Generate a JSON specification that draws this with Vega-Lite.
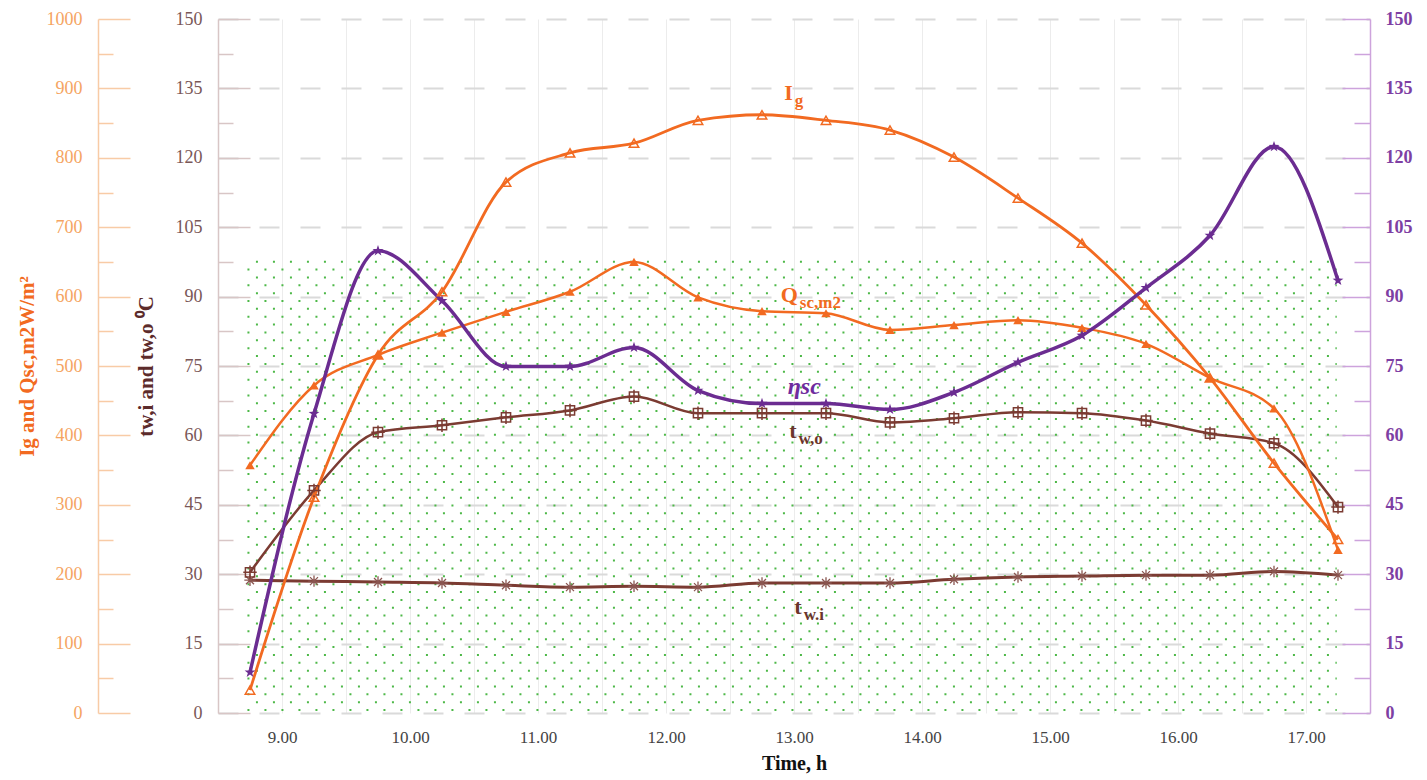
{
  "$schema": "https://vega.github.io/schema/vega-lite/v6.json",
  "width": 1152,
  "height": 694,
  "autosize": {"type": "none"},
  "padding": {"left": 218, "top": 19, "right": 57, "bottom": 67},
  "background": "white",
  "config": {
    "view": {"stroke": null},
    "axis": {"labelFont": "Liberation Serif", "titleFont": "Liberation Serif"},
    "axisLeft": {"labelFont": "Liberation Serif", "titleFont": "Liberation Serif"},
    "axisRight": {"labelFont": "Liberation Serif", "titleFont": "Liberation Serif"},
    "axisBottom": {"labelFont": "Liberation Serif", "titleFont": "Liberation Serif"},
    "axisX": {"labelFont": "Liberation Serif", "titleFont": "Liberation Serif"},
    "axisY": {"labelFont": "Liberation Serif", "titleFont": "Liberation Serif"},
    "axisQuantitative": {"labelFont": "Liberation Serif", "titleFont": "Liberation Serif"},
    "text": {"font": "Liberation Serif"}
  },
  "datasets": {
    "main": [
      {"t": 8.75, "Ig": 33, "Qsc": 357, "eta": 8.8, "two": 30.4, "twi": 28.7},
      {"t": 9.25, "Ig": 311, "Qsc": 472, "eta": 64.7, "two": 48.1, "twi": 28.5},
      {"t": 9.75, "Ig": 516, "Qsc": 516, "eta": 99.9, "two": 60.7, "twi": 28.3},
      {"t": 10.25, "Ig": 607, "Qsc": 548, "eta": 89.1, "two": 62.2, "twi": 28.1},
      {"t": 10.75, "Ig": 765, "Qsc": 578, "eta": 74.9, "two": 63.9, "twi": 27.6},
      {"t": 11.25, "Ig": 807, "Qsc": 607, "eta": 74.9, "two": 65.4, "twi": 27.2},
      {"t": 11.75, "Ig": 821, "Qsc": 650, "eta": 79.0, "two": 68.4, "twi": 27.4},
      {"t": 12.25, "Ig": 854, "Qsc": 599, "eta": 69.7, "two": 64.8, "twi": 27.2},
      {"t": 12.75, "Ig": 862, "Qsc": 579, "eta": 66.9, "two": 64.8, "twi": 28.1},
      {"t": 13.25, "Ig": 854, "Qsc": 576, "eta": 66.9, "two": 64.8, "twi": 28.1},
      {"t": 13.75, "Ig": 840, "Qsc": 552, "eta": 65.6, "two": 62.8, "twi": 28.1},
      {"t": 14.25, "Ig": 801, "Qsc": 559, "eta": 69.3, "two": 63.7, "twi": 28.9},
      {"t": 14.75, "Ig": 742, "Qsc": 566, "eta": 75.8, "two": 65.0, "twi": 29.4},
      {"t": 15.25, "Ig": 677, "Qsc": 555, "eta": 81.6, "two": 64.8, "twi": 29.6},
      {"t": 15.75, "Ig": 588, "Qsc": 532, "eta": 91.9, "two": 63.2, "twi": 29.8},
      {"t": 16.25, "Ig": 483, "Qsc": 483, "eta": 103.2, "two": 60.4, "twi": 29.8},
      {"t": 16.75, "Ig": 360, "Qsc": 439, "eta": 122.4, "two": 58.3, "twi": 30.6},
      {"t": 17.25, "Ig": 250, "Qsc": 235, "eta": 93.5, "two": 44.5, "twi": 29.8}
    ],
    "labels": [
      {"s": "Ig", "main": "I", "sub": "g", "t": 12.99, "v": 134.0},
      {"s": "Qsc", "main": "Q", "sub": "sc,m2", "t": 13.03, "v": 90.4},
      {"s": "two", "main": "t", "sub": "w,o", "t": 13.02, "v": 60.9},
      {"s": "twi", "main": "t", "sub": "w.i", "t": 13.06, "v": 22.9}
    ],
    "etalabel": [
      {"s": "eta", "main": "ηsc", "t": 13.08, "v": 70.4}
    ],
    "dots": [
      {"lv": 0.65, "p": 0, "t": 8.73, "t2": 17.24},
      {"lv": 2.35, "p": 1, "t": 8.73, "t2": 17.24},
      {"lv": 4.05, "p": 0, "t": 8.73, "t2": 17.24},
      {"lv": 5.75, "p": 1, "t": 8.73, "t2": 17.24},
      {"lv": 7.45, "p": 0, "t": 8.73, "t2": 17.24},
      {"lv": 9.15, "p": 1, "t": 8.73, "t2": 17.24},
      {"lv": 10.85, "p": 0, "t": 8.73, "t2": 17.24},
      {"lv": 12.55, "p": 1, "t": 8.73, "t2": 17.24},
      {"lv": 14.25, "p": 0, "t": 8.73, "t2": 17.24},
      {"lv": 15.95, "p": 1, "t": 8.73, "t2": 17.24},
      {"lv": 17.65, "p": 0, "t": 8.73, "t2": 17.24},
      {"lv": 19.35, "p": 1, "t": 8.73, "t2": 17.24},
      {"lv": 21.05, "p": 0, "t": 8.73, "t2": 17.24},
      {"lv": 22.75, "p": 1, "t": 8.73, "t2": 17.24},
      {"lv": 24.45, "p": 0, "t": 8.73, "t2": 17.24},
      {"lv": 26.15, "p": 1, "t": 8.73, "t2": 17.24},
      {"lv": 27.85, "p": 0, "t": 8.73, "t2": 17.24},
      {"lv": 29.55, "p": 1, "t": 8.73, "t2": 17.24},
      {"lv": 31.25, "p": 0, "t": 8.73, "t2": 17.24},
      {"lv": 32.95, "p": 1, "t": 8.73, "t2": 17.24},
      {"lv": 34.65, "p": 0, "t": 8.73, "t2": 17.24},
      {"lv": 36.35, "p": 1, "t": 8.73, "t2": 17.24},
      {"lv": 38.05, "p": 0, "t": 8.73, "t2": 17.24},
      {"lv": 39.75, "p": 1, "t": 8.73, "t2": 17.24},
      {"lv": 41.45, "p": 0, "t": 8.73, "t2": 17.24},
      {"lv": 43.15, "p": 1, "t": 8.73, "t2": 17.24},
      {"lv": 44.85, "p": 0, "t": 8.73, "t2": 17.24},
      {"lv": 46.55, "p": 1, "t": 8.73, "t2": 17.24},
      {"lv": 48.25, "p": 0, "t": 8.73, "t2": 17.24},
      {"lv": 49.95, "p": 1, "t": 8.73, "t2": 17.24},
      {"lv": 51.65, "p": 0, "t": 8.73, "t2": 17.24},
      {"lv": 53.35, "p": 1, "t": 8.73, "t2": 17.24},
      {"lv": 55.05, "p": 0, "t": 8.73, "t2": 17.24},
      {"lv": 56.75, "p": 1, "t": 8.73, "t2": 17.24},
      {"lv": 58.45, "p": 0, "t": 8.73, "t2": 17.24},
      {"lv": 60.15, "p": 1, "t": 8.73, "t2": 17.24},
      {"lv": 61.85, "p": 0, "t": 8.73, "t2": 17.24},
      {"lv": 63.55, "p": 1, "t": 8.73, "t2": 17.24},
      {"lv": 65.25, "p": 0, "t": 8.73, "t2": 17.24},
      {"lv": 66.95, "p": 1, "t": 8.73, "t2": 17.24},
      {"lv": 68.65, "p": 0, "t": 8.73, "t2": 17.24},
      {"lv": 70.35, "p": 1, "t": 8.73, "t2": 17.24},
      {"lv": 72.05, "p": 0, "t": 8.73, "t2": 17.24},
      {"lv": 73.75, "p": 1, "t": 8.73, "t2": 17.24},
      {"lv": 75.45, "p": 0, "t": 8.73, "t2": 17.24},
      {"lv": 77.15, "p": 1, "t": 8.73, "t2": 17.24},
      {"lv": 78.85, "p": 0, "t": 8.73, "t2": 17.24},
      {"lv": 80.55, "p": 1, "t": 8.73, "t2": 17.24},
      {"lv": 82.25, "p": 0, "t": 8.73, "t2": 17.24},
      {"lv": 83.95, "p": 1, "t": 8.73, "t2": 17.24},
      {"lv": 85.65, "p": 0, "t": 8.73, "t2": 17.24},
      {"lv": 87.35, "p": 1, "t": 8.73, "t2": 17.24},
      {"lv": 89.05, "p": 0, "t": 8.73, "t2": 17.24},
      {"lv": 90.75, "p": 1, "t": 8.73, "t2": 17.24},
      {"lv": 92.45, "p": 0, "t": 8.73, "t2": 17.24},
      {"lv": 94.15, "p": 1, "t": 8.73, "t2": 17.24},
      {"lv": 95.85, "p": 0, "t": 8.73, "t2": 17.24},
      {"lv": 97.55, "p": 1, "t": 8.73, "t2": 17.24}
    ]
  },
  "data": {"name": "main"},
  "encoding": {
    "x": {
      "field": "t", "type": "quantitative",
      "scale": {"domain": [8.5, 17.5], "nice": false, "zero": false},
      "axis": {
        "values": [9, 9.5, 10, 10.5, 11, 11.5, 12, 12.5, 13, 13.5, 14, 14.5, 15, 15.5, 16, 16.5, 17],
        "labelExpr": "datum.value % 1 === 0 ? format(datum.value, '.2f') : ''",
        "labelOverlap": false,
        "domain": false, "ticks": false, "tickSize": 0,
        "grid": true, "gridColor": "#ececec", "gridWidth": 1,
        "labelFont": "Liberation Serif", "labelFontSize": 17, "labelColor": "#444444", "labelPadding": 16,
        "title": "Time, h", "titleFont": "Liberation Serif", "titleFontSize": 20, "titleFontWeight": "bold", "titleColor": "#111111", "titlePadding": 8
      }
    }
  },
  "layer": [
    {
      "mark": {"type": "point", "opacity": 0},
      "encoding": {"y": {"field": "two", "type": "quantitative", "scale": {"domain": [0, 150], "nice": false, "zero": true},
        "axis": {"orient": "left", "offset": 0, "values": [0, 15, 30, 45, 60, 75, 90, 105, 120, 135, 150], "format": "d",
          "ticks": false, "tickSize": 0, "domain": true, "domainColor": "#D8C6C6", "domainWidth": 1.5,
          "labelFont": "Liberation Serif", "labelColor": "#7A5757", "labelFontSize": 18, "labelPadding": 16,
          "grid": true, "gridDash": [20, 21], "gridColor": "#dadada", "gridWidth": 2,
          "title": "tw,i and tw,o ⁰C", "titleFont": "Liberation Serif", "titleColor": "#5C2B2B", "titleFontSize": 21, "titleFontWeight": "bold",
          "titleX": -72, "titleY": 347, "titleAngle": -90, "titleAlign": "center", "titleBaseline": "middle"}}}
    },
    {
      "mark": {"type": "point", "opacity": 0},
      "encoding": {"y": {"field": "two", "type": "quantitative", "scale": {"domain": [0, 150], "nice": false},
        "axis": {"orient": "left", "offset": -32, "values": [0, 15, 30, 45, 60, 75, 90, 105, 120, 135, 150],
          "domain": false, "labels": false, "ticks": true, "tickSize": 32, "tickColor": "#D8C6C6", "tickWidth": 1.5, "grid": false, "title": null}}}
    },
    {
      "mark": {"type": "point", "opacity": 0},
      "encoding": {"y": {"field": "two", "type": "quantitative", "scale": {"domain": [0, 150], "nice": false},
        "axis": {"orient": "left", "offset": -15, "values": [7.5, 22.5, 37.5, 52.5, 67.5, 82.5, 97.5, 112.5, 127.5, 142.5],
          "domain": false, "labels": false, "ticks": true, "tickSize": 15, "tickColor": "#D8C6C6", "tickWidth": 1.5, "grid": false, "title": null}}}
    },
    {
      "mark": {"type": "point", "opacity": 0},
      "encoding": {"y": {"field": "Ig", "type": "quantitative", "scale": {"domain": [0, 1000], "nice": false},
        "axis": {"orient": "left", "offset": 120, "values": [0, 100, 200, 300, 400, 500, 600, 700, 800, 900, 1000], "format": "d",
          "ticks": false, "tickSize": 0, "domain": true, "domainColor": "#F8CBA6", "domainWidth": 1.5,
          "labelFont": "Liberation Serif", "labelColor": "#F5A462", "labelFontSize": 18, "labelPadding": 16, "grid": false,
          "title": "Ig and Qsc,m2W/m²", "titleFont": "Liberation Serif", "titleColor": "#F26A21", "titleFontSize": 21, "titleFontWeight": "bold",
          "titleX": -71, "titleY": 347, "titleAngle": -90, "titleAlign": "center", "titleBaseline": "middle"}}}
    },
    {
      "mark": {"type": "point", "opacity": 0},
      "encoding": {"y": {"field": "Ig", "type": "quantitative", "scale": {"domain": [0, 1000], "nice": false},
        "axis": {"orient": "left", "offset": 88, "values": [0, 100, 200, 300, 400, 500, 600, 700, 800, 900, 1000],
          "domain": false, "labels": false, "ticks": true, "tickSize": 32, "tickColor": "#F8CBA6", "tickWidth": 1.5, "grid": false, "title": null}}}
    },
    {
      "mark": {"type": "point", "opacity": 0},
      "encoding": {"y": {"field": "Ig", "type": "quantitative", "scale": {"domain": [0, 1000], "nice": false},
        "axis": {"orient": "left", "offset": 105, "values": [50, 150, 250, 350, 450, 550, 650, 750, 850, 950],
          "domain": false, "labels": false, "ticks": true, "tickSize": 15, "tickColor": "#F8CBA6", "tickWidth": 1.5, "grid": false, "title": null}}}
    },
    {
      "mark": {"type": "point", "opacity": 0},
      "encoding": {"y": {"field": "eta", "type": "quantitative", "scale": {"domain": [0, 150], "nice": false},
        "axis": {"orient": "right", "offset": 0, "values": [0, 15, 30, 45, 60, 75, 90, 105, 120, 135, 150], "format": "d",
          "ticks": false, "tickSize": 0, "domain": true, "domainColor": "#CDA3DC", "domainWidth": 1.5,
          "labelFont": "Liberation Serif", "labelColor": "#7E3FA3", "labelFontSize": 18, "labelFontWeight": "bold", "labelPadding": 15, "grid": false, "title": null}}}
    },
    {
      "mark": {"type": "point", "opacity": 0},
      "encoding": {"y": {"field": "eta", "type": "quantitative", "scale": {"domain": [0, 150], "nice": false},
        "axis": {"orient": "right", "offset": -28, "values": [0, 15, 30, 45, 60, 75, 90, 105, 120, 135, 150],
          "domain": false, "labels": false, "ticks": true, "tickSize": 28, "tickColor": "#CDA3DC", "tickWidth": 1.5, "grid": false, "title": null}}}
    },
    {
      "mark": {"type": "point", "opacity": 0},
      "encoding": {"y": {"field": "eta", "type": "quantitative", "scale": {"domain": [0, 150], "nice": false},
        "axis": {"orient": "right", "offset": -16, "values": [7.5, 22.5, 37.5, 52.5, 67.5, 82.5, 97.5, 112.5, 127.5, 142.5],
          "domain": false, "labels": false, "ticks": true, "tickSize": 16, "tickColor": "#CDA3DC", "tickWidth": 1.5, "grid": false, "title": null}}}
    },
    {
      "data": {"name": "dots"},
      "transform": [{"filter": "datum.p == 0"}],
      "mark": {"type": "rule", "stroke": "#4DB848", "strokeWidth": 2, "strokeDash": [2, 15], "strokeDashOffset": 0},
      "encoding": {
        "x2": {"field": "t2"},
        "y": {"field": "lv", "type": "quantitative", "scale": {"domain": [0, 150], "nice": false}, "axis": null}
      }
    },
    {
      "data": {"name": "dots"},
      "transform": [{"filter": "datum.p == 1"}],
      "mark": {"type": "rule", "stroke": "#4DB848", "strokeWidth": 2, "strokeDash": [2, 15], "strokeDashOffset": 8.5},
      "encoding": {
        "x2": {"field": "t2"},
        "y": {"field": "lv", "type": "quantitative", "scale": {"domain": [0, 150], "nice": false}, "axis": null}
      }
    },
    {
      "mark": {"type": "line", "color": "#7B3B32", "strokeWidth": 3, "interpolate": "monotone"},
      "encoding": {"y": {"field": "twi", "type": "quantitative", "scale": {"domain": [0, 150], "nice": false}, "axis": null}}
    },
    {
      "mark": {"type": "line", "color": "#7B3B32", "strokeWidth": 2.5, "interpolate": "monotone"},
      "encoding": {"y": {"field": "two", "type": "quantitative", "scale": {"domain": [0, 150], "nice": false}, "axis": null}}
    },
    {
      "mark": {"type": "line", "color": "#F26A21", "strokeWidth": 2.5, "interpolate": "monotone"},
      "encoding": {"y": {"field": "Qsc", "type": "quantitative", "scale": {"domain": [0, 1000], "nice": false}, "axis": null}}
    },
    {
      "mark": {"type": "line", "color": "#F26A21", "strokeWidth": 2.8, "interpolate": "monotone"},
      "encoding": {"y": {"field": "Ig", "type": "quantitative", "scale": {"domain": [0, 1000], "nice": false}, "axis": null}}
    },
    {
      "mark": {"type": "line", "color": "#6B2C91", "strokeWidth": 3.5, "interpolate": "monotone"},
      "encoding": {"y": {"field": "eta", "type": "quantitative", "scale": {"domain": [0, 150], "nice": false}, "axis": null}}
    },
    {
      "mark": {"type": "point", "shape": "M-1,0L1,0M0,-1L0,1M-0.7,-0.7L0.7,0.7M-0.7,0.7L0.7,-0.7", "filled": false, "stroke": "#8A5550", "strokeWidth": 1.3, "size": 130, "opacity": 1},
      "encoding": {"y": {"field": "twi", "type": "quantitative", "scale": {"domain": [0, 150], "nice": false}, "axis": null}}
    },
    {
      "mark": {"type": "point", "shape": "M-0.75,-0.75L0.75,-0.75L0.75,0.75L-0.75,0.75Z M-1.1,0L1.1,0 M0,-1.1L0,1.1", "filled": false, "stroke": "#7B3B32", "strokeWidth": 1.5, "size": 150, "opacity": 1},
      "encoding": {"y": {"field": "two", "type": "quantitative", "scale": {"domain": [0, 150], "nice": false}, "axis": null}}
    },
    {
      "mark": {"type": "point", "shape": "triangle-up", "filled": true, "color": "#F26A21", "size": 90, "opacity": 1},
      "encoding": {"y": {"field": "Qsc", "type": "quantitative", "scale": {"domain": [0, 1000], "nice": false}, "axis": null}}
    },
    {
      "mark": {"type": "point", "shape": "triangle-up", "filled": false, "stroke": "#F26A21", "strokeWidth": 1.5, "size": 90, "opacity": 1},
      "encoding": {"y": {"field": "Ig", "type": "quantitative", "scale": {"domain": [0, 1000], "nice": false}, "axis": null}}
    },
    {
      "mark": {"type": "point", "shape": "M0,-1L0.235,-0.324L0.951,-0.309L0.38,0.124L0.588,0.809L0,0.4L-0.588,0.809L-0.38,0.124L-0.951,-0.309L-0.235,-0.324Z", "filled": true, "color": "#6B2C91", "size": 130, "opacity": 1},
      "encoding": {"y": {"field": "eta", "type": "quantitative", "scale": {"domain": [0, 150], "nice": false}, "axis": null}}
    },
    {
      "data": {"name": "labels"},
      "mark": {"type": "text", "align": "right", "baseline": "middle", "fontSize": 22, "fontWeight": "bold", "font": "Liberation Serif"},
      "encoding": {
        "y": {"field": "v", "type": "quantitative", "scale": {"domain": [0, 150], "nice": false}, "axis": null},
        "text": {"field": "main"},
        "color": {"field": "s", "type": "nominal", "scale": {"domain": ["Ig", "Qsc", "eta", "two", "twi"], "range": ["#F26A21", "#F26A21", "#6E2C9E", "#6B352B", "#6B352B"]}, "legend": null}
      }
    },
    {
      "data": {"name": "labels"},
      "mark": {"type": "text", "align": "left", "baseline": "middle", "fontSize": 17, "fontWeight": "bold", "font": "Liberation Serif", "dx": 2, "dy": 8},
      "encoding": {
        "y": {"field": "v", "type": "quantitative", "scale": {"domain": [0, 150], "nice": false}, "axis": null},
        "text": {"field": "sub"},
        "color": {"field": "s", "type": "nominal", "scale": {"domain": ["Ig", "Qsc", "eta", "two", "twi"], "range": ["#F26A21", "#F26A21", "#6E2C9E", "#6B352B", "#6B352B"]}, "legend": null}
      }
    },
    {
      "data": {"name": "etalabel"},
      "mark": {"type": "text", "align": "center", "baseline": "middle", "fontSize": 24, "fontWeight": "bold", "fontStyle": "italic", "font": "Liberation Serif", "color": "#6E2C9E"},
      "encoding": {
        "y": {"field": "v", "type": "quantitative", "scale": {"domain": [0, 150], "nice": false}, "axis": null},
        "text": {"field": "main"}
      }
    }
  ],
  "resolve": {"scale": {"y": "independent", "color": "shared"}}
}
